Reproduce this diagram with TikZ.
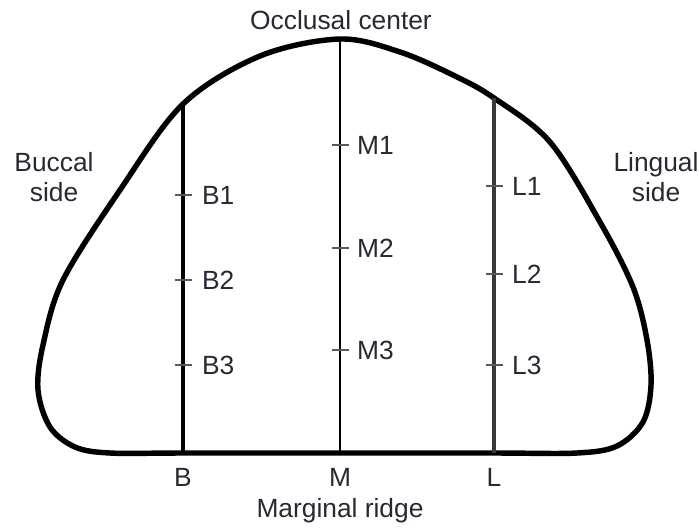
\documentclass[tikz,border=0pt]{standalone}
\usepackage{fontspec}
\setmainfont{Liberation Sans}
\usetikzlibrary{positioning,calc}
\definecolor{labelgray}{RGB}{40,40,50}

\begin{document}
\begin{tikzpicture}[x=0.02cm, y=-0.02cm, outline/.style={line width=3.1pt, line join=round}, axis/.style={line width=1.8pt}, tick/.style={line width=0.8pt, black!65}, lbl/.style={text=labelgray, font=\fontsize{15}{17.5}\selectfont, inner sep=1pt}, side/.style={lbl, align=center}]
\useasboundingbox (0,0) rectangle (699,528);

% ends of the three sections
\coordinate (Btop) at (183,104);
\coordinate (Mtop) at (340,39);
\coordinate (Ltop) at (494,98);
\coordinate (Bbot) at (183,453);
\coordinate (Mbot) at (340,453);
\coordinate (Lbot) at (494,453);

% outline of the cusp
\draw[outline] plot[smooth cycle, tension=0.55] coordinates {(Mtop) (400,52) (455,76) (Ltop) (550,142) (600,222) (633,287) (647,340) (651,385) (643,422) (617,446) (577,453) (Lbot) (Mbot) (Bbot) (110,453) (75,447) (50,427) (38,390) (43,345) (63,280) (120,190) (Btop) (260,56)};

\draw[axis] (Btop) -- (Bbot);
\draw[axis, line width=1.5pt] (Mtop) -- (Mbot);
\draw[axis, line width=2.3pt, black!78] (Ltop) -- (Lbot);

% measuring points
\foreach \y/\n in {195/1,280/2,365/3}{
  \draw[tick] (175,\y) -- (192,\y);
  \node[lbl, anchor=west] (B\n) at (200,\y) {B\n};
}
\foreach \y/\n in {145/1,248/2,350/3}{
  \draw[tick] (332,\y) -- (349,\y);
  \node[lbl, anchor=west] (M\n) at (355,\y) {M\n};
}
\foreach \y/\n in {186/1,274/2,365/3}{
  \draw[tick] (486,\y) -- (503,\y);
  \node[lbl, anchor=west] (L\n) at (510,\y) {L\n};
}

\node[lbl] (occl) at (341,20) {Occlusal center};
\node[side] (buccal) at (54,177) {Buccal\\side};
\node[side] (lingual) at (656,177) {Lingual\\side};
\node[lbl] (B) at (183,477) {B};
\node[lbl] (M) at (340,477) {M};
\node[lbl] (L) at (494,477) {L};
\node[lbl] (ridge) at (340,511) {Marginal ridge};
\end{tikzpicture}
\end{document}
